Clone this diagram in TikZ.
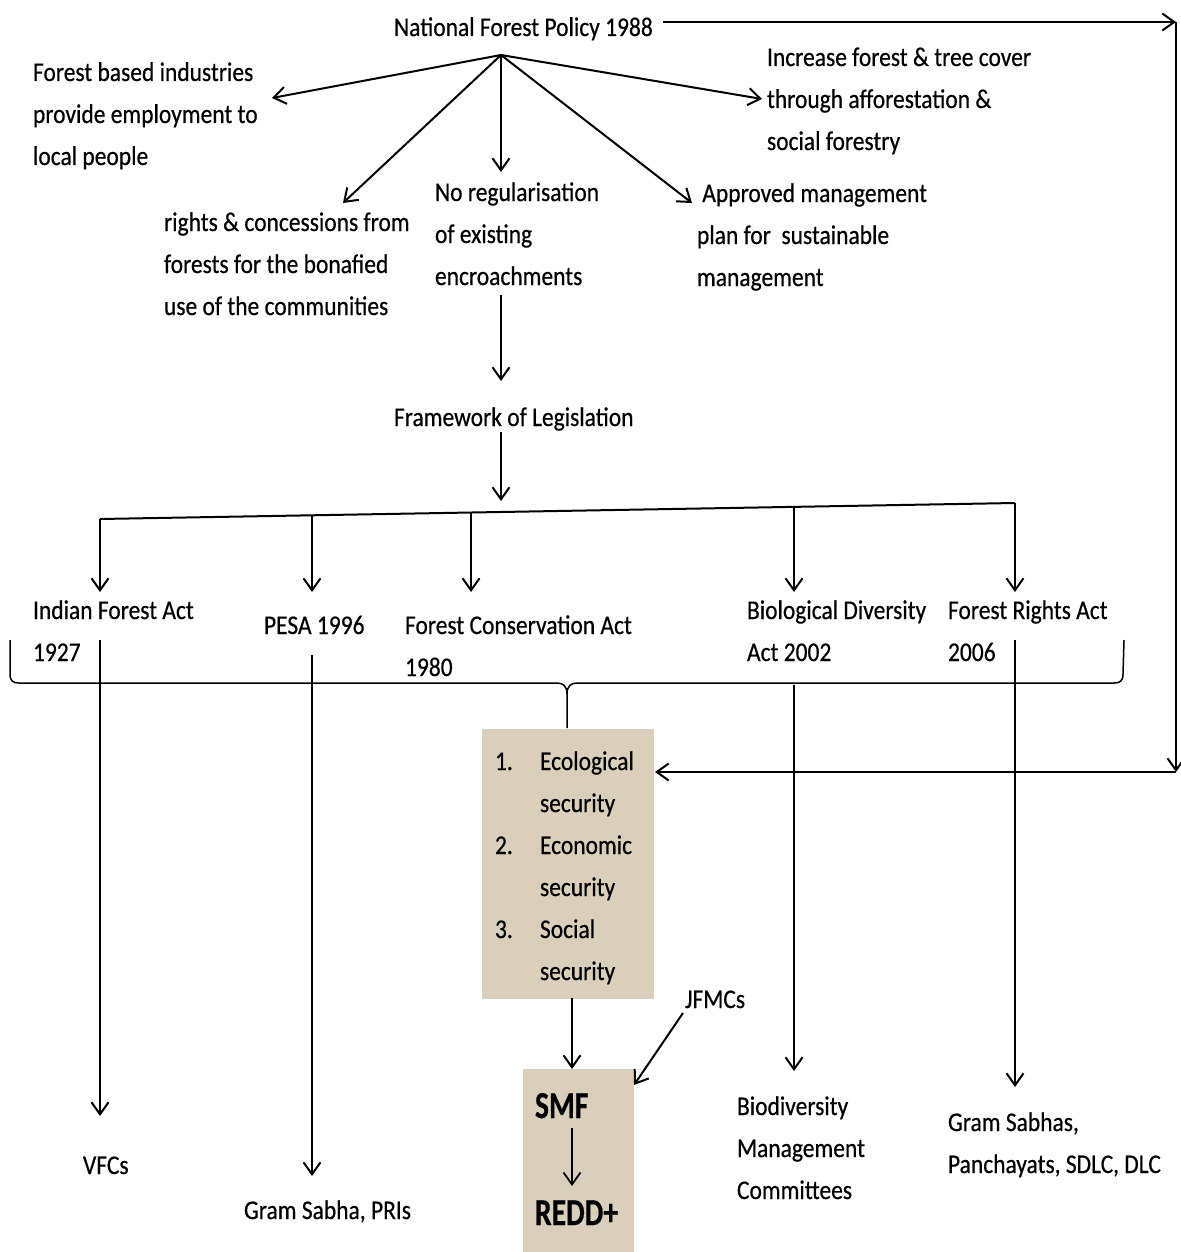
\documentclass[tikz,border=0pt]{standalone}
\usepackage{fontspec}
\setmainfont{Carlito}[FakeStretch=0.87,FakeBold=0.5]
\usetikzlibrary{arrows.meta,calc}
\definecolor{parch}{RGB}{218,207,186}

\begin{document}
\begin{tikzpicture}[x=1pt, y=-1pt, line width=2pt, line join=round,
  >={Straight Barb[length=12pt,width=17pt]},
  lbl/.style={anchor=base west, inner sep=0pt, align=left,
              font=\fontsize{27}{42}\selectfont},
  bigword/.style={anchor=base west, inner sep=0pt,
              font=\fontsize{34}{40}\selectfont\bfseries},
  parchbox/.style={fill=parch, draw=none, inner sep=0pt, anchor=north west}]

  %% ==== top: policy and its five aims ====
  %% (base of a many-line label = base of its LAST line)
  \node[lbl] (nfp)    at (393,36)  {National Forest Policy 1988};
  \node[lbl] (fbi)    at (32,165)  {Forest based industries\\provide employment to\\local people};
  \node[lbl] (incr)   at (766,150) {Increase forest \& tree cover\\through afforestation \&\\social forestry};
  \node[lbl] (rights) at (163,315) {rights \& concessions from\\forests for the bonafied\\use of the communities};
  \node[lbl] (noreg)  at (434,285) {No regularisation\\of existing\\encroachments};
  \node[lbl] (amp)    at (696,286) {~Approved management\\plan for~ sustainable\\management};

  \coordinate (hub)     at (501,55);
  \coordinate (fbiin)   at (272,98);
  \coordinate (rightin) at (343,203);
  \coordinate (noregin) at (501,172);
  \coordinate (ampin)   at (692,203);
  \coordinate (incrin)  at (762,99);
  \draw[->] (hub) -- (fbiin);
  \draw[->] (hub) -- (rightin);
  \draw[->] (hub) -- (noregin);
  \draw[->] (hub) -- (ampin);
  \draw[->] (hub) -- (incrin);

  %% ==== framework ====
  \node[lbl] (frame) at (393,426) {Framework of Legislation};
  \draw[->] (501,295) -- (501,381);
  \draw[->] (501,432) -- (501,501);

  %% bar (a little slanted, as in the source)
  \coordinate (bl) at (100,519);
  \coordinate (br) at (1015,503);
  \coordinate (tips) at (0,592);
  \coordinate (b2) at ($(bl)!0.2317!(br)$);
  \coordinate (b3) at ($(bl)!0.4055!(br)$);
  \coordinate (b4) at ($(bl)!0.7585!(br)$);
  \draw (bl) -- (br);
  \draw[->] (bl) -- (bl |- tips);
  \draw[->] (b2) -- (b2 |- tips);
  \draw[->] (b3) -- (b3 |- tips);
  \draw[->] (b4) -- (b4 |- tips);
  \draw[->] (br) -- (br |- tips);

  %% ==== the five acts ====
  \node[lbl] (ifa)  at (32,661)  {Indian Forest Act\\1927};
  \node[lbl] (pesa) at (263,634) {PESA 1996};
  \node[lbl] (fca)  at (404,676) {Forest Conservation Act\\1980};
  \node[lbl] (bda)  at (746,661) {Biological Diversity\\Act 2002};
  \node[lbl] (fra)  at (947,661) {Forest Rights Act\\2006};

  % brace under the acts
  \draw[line width=1.5pt] (10,640) -- (10,674) .. controls (10,681) and (13,683) .. (19,683)
    -- (557,683) .. controls (563,683) and (567,686) .. (567,694) -- (567,728);
  \draw[line width=1.5pt] (1124,640) -- (1123,674) .. controls (1123,681) and (1120,683) .. (1114,683)
    -- (577,683) .. controls (571,683) and (567,686) .. (567,694);

  %% ==== goals box ====
  \node[parchbox, minimum width=172pt, minimum height=270pt] (goals) at (481,728) {};
  \node[lbl] (goaltxt) at (494,980) {\makebox[45pt][l]{1.}Ecological\\\hspace*{45pt}security\\
    \makebox[45pt][l]{2.}Economic\\\hspace*{45pt}security\\
    \makebox[45pt][l]{3.}Social\\\hspace*{45pt}security};

  % policy straight to the goals, round the right side
  \coordinate (nfpout) at (663,22);
  \coordinate (c1) at (1176,22);
  \coordinate (c2) at (1176,772);
  \draw[->] (nfpout) -- (c1);
  \draw[->] (c1) -- (c2);
  \draw[->] (c2) -- (goals.east |- c2);

  %% ==== SMF / REDD+ ====
  \node[parchbox, minimum width=111pt, minimum height=184pt] (smfbox) at (522,1068) {};
  \node[bigword] (smf)  at (534,1118) {\scalebox{1}[1.12]{SMF}};
  \node[bigword] (redd) at (534,1225) {\scalebox{1}[1.12]{REDD+}};
  \coordinate (gout)   at (572,998);
  \coordinate (smfin)  at (572,1069);
  \coordinate (smfout) at (572,1128);
  \coordinate (reddin) at (572,1186);
  \draw[->] (gout) -- (smfin);
  \draw[->, line width=1.8pt] (smfout) -- (reddin);

  \node[lbl] (jfmc) at (684,1008) {JFMCs};
  \coordinate (jfmcout) at (683,1013);
  \coordinate (jfmcin)  at (634,1085);
  \draw[->] (jfmcout) -- (jfmcin);

  %% ==== bodies under each act ====
  \node[lbl] (vfc)  at (82,1174)  {VFCs};
  \node[lbl] (gsp)  at (243,1219) {Gram Sabha, PRIs};
  \node[lbl] (bmc)  at (736,1199) {Biodiversity\\Management\\Committees};
  \node[lbl] (gsd)  at (947,1173) {Gram Sabhas,\\Panchayats, SDLC, DLC};

  \coordinate (ifaout)  at (100,640);
  \coordinate (vfcin)   at (100,1116);
  \coordinate (pesaout) at (312,655);
  \coordinate (gspin)   at (312,1176);
  \coordinate (bdaout)  at (794,685);
  \coordinate (bmcin)   at (794,1071);
  \coordinate (fraout)  at (1015,640);
  \coordinate (gsdin)   at (1015,1087);
  \draw[->] (ifaout) -- (vfcin);
  \draw[->] (pesaout) -- (gspin);
  \draw[->] (bdaout) -- (bmcin);
  \draw[->] (fraout) -- (gsdin);

  \pgfresetboundingbox
  \path[use as bounding box] (0,0) rectangle (1180,1252);
\end{tikzpicture}
\end{document}
